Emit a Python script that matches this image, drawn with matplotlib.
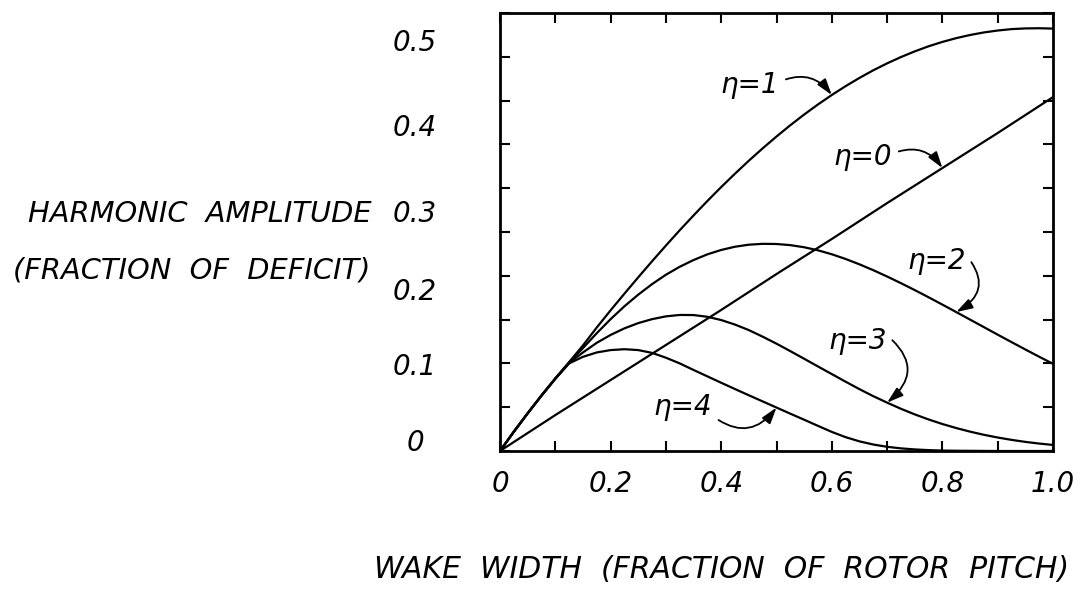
import matplotlib
matplotlib.use('Agg')
import matplotlib.pyplot as plt

# Wake width (fraction of rotor pitch)
width = [0.000, 0.025, 0.050, 0.075, 0.100, 0.125, 0.150, 0.175, 0.200, 0.225,
         0.250, 0.275, 0.300, 0.325, 0.350, 0.375, 0.400, 0.425, 0.450, 0.475,
         0.500, 0.525, 0.550, 0.575, 0.600, 0.625, 0.650, 0.675, 0.700, 0.725,
         0.750, 0.775, 0.800, 0.825, 0.850, 0.875, 0.900, 0.925, 0.950, 0.975,
         1.000]

# Harmonic amplitudes (fraction of deficit)
eta1 = [0, .022, .043, .0635, .083, .1015, .1205, .141, .1606, .1796,
        .1983, .2166, .2345, .252, .2689, .2854, .3013, .3166, .3314, .3455,
        .359, .3719, .3841, .3956, .4064, .4165, .4259, .4346, .4425, .4497,
        .4562, .462, .467, .4713, .4749, .4778, .48, .4816, .4824, .4826,
        .4822]
eta2 = [0, .022, .043, .0632, .0825, .101, .1175, .1345, .1505, .1652,
        .1785, .1905, .2012, .2103, .218, .2245, .2295, .2332, .2355, .2365,
        .2363, .235, .2326, .2291, .2246, .2192, .2131, .2064, .1992, .1916,
        .1837, .1755, .1671, .1586, .15, .1414, .1328, .1243, .1159, .1076,
        .0995]
eta3 = [0, .022, .043, .0632, .0825, .1005, .1125, .1235, .1325, .14,
        .146, .1505, .1537, .1553, .1552, .1532, .1495, .1443, .138, .1305,
        .1225, .114, .1053, .0965, .0878, .0791, .0706, .0626, .0552, .0482,
        .0418, .036, .0308, .0262, .0221, .0185, .0154, .0127, .0104, .0085,
        .0069]
eta4 = [0, .022, .043, .0632, .0825, .1, .1075, .1125, .1152, .1162,
        .1152, .112, .1065, .1, .0925, .0852, .0779, .0707, .0636, .0566,
        .0496, .0426, .0357, .0287, .0218, .0158, .011, .0074, .0048, .003,
        .0018, .001, .0005, .0003, .0002, .0001, 0, 0, 0, 0,
        0]

# eta = 0 (mean deficit) is a straight line
width0 = [0.0, 0.1, 0.2, 0.3, 0.4, 0.5, 0.6, 0.7, 0.8, 0.9, 1.0]
eta0 = [0, .041, .081, .121, .161, .202, .242, .283, .323, .363, .404]

xticks = [0.0, 0.1, 0.2, 0.3, 0.4, 0.5, 0.6, 0.7, 0.8, 0.9, 1.0]
xticklabels = ['0', '', '0.2', '', '0.4', '', '0.6', '', '0.8', '', '1.0']
yticks = [0.0, 0.05, 0.1, 0.15, 0.2, 0.25, 0.3, 0.35, 0.4, 0.45, 0.5]
ylabel_text = ['0', '0.1', '0.2', '0.3', '0.4', '0.5']

W, H = 1082, 593
plt.rcParams['font.family'] = ['DejaVu Sans']
plt.rcParams['font.style'] = 'italic'
plt.rcParams['font.size'] = 20

fig = plt.figure(figsize=(W / 100, H / 100), dpi=100)
ax = fig.add_axes([500 / W, 1 - 451 / H, 553 / W, 438 / H])

lw = 1.6
ax.plot(width0, eta0, color='black', lw=lw)
ax.plot(width, eta1, color='black', lw=lw)
ax.plot(width, eta2, color='black', lw=lw)
ax.plot(width, eta3, color='black', lw=lw)
ax.plot(width, eta4, color='black', lw=lw)

ax.set_xlim(0, 1)
ax.set_ylim(0, 0.5)
ax.set_xticks(xticks, xticklabels)
ax.set_yticks(yticks)
ax.tick_params(direction='in', length=7, width=1.5, top=True, right=True,
               labelleft=False, labelsize=20, pad=14)
for s in ax.spines.values():
    s.set_linewidth(2)

# y tick labels sit a little off the tick marks in the original
ylabel_pix = [443, 367, 292, 214, 128, 43]
for lab, yp in zip(ylabel_text, ylabel_pix):
    fig.text(415 / W, 1 - yp / H, lab, ha='center', va='center', fontsize=20)

fig.text(372 / W, 1 - 214 / H, 'HARMONIC  AMPLITUDE', ha='right', va='center',
         fontsize=20.8)
fig.text(370 / W, 1 - 271 / H, '(FRACTION  OF  DEFICIT)', ha='right', va='center',
         fontsize=20.8)
fig.text(722 / W, 1 - 570 / H, 'WAKE  WIDTH  (FRACTION  OF  ROTOR  PITCH)',
         ha='center', va='center', fontsize=21.5)

# curve labels with curved arrows
def label(text, xy, xytext, rad, relpos):
    ax.annotate(text, xy=xy, xytext=xytext, textcoords='data',
                ha='center', va='center', fontsize=20,
                arrowprops=dict(arrowstyle='-|>,head_length=0.7,head_width=0.22',
                                connectionstyle=f'arc3,rad={rad}',
                                color='black', lw=1.3, shrinkA=3, shrinkB=0,
                                relpos=relpos, mutation_scale=14))

label('η=1', (width[24], eta1[24]), (0.452, 0.418), -0.4, (1.0, 0.6))
label('η=0', (width0[8], eta0[8]), (0.656, 0.336), -0.4, (1.0, 0.6))
label('η=2', (width[33], eta2[33]), (0.790, 0.217), -0.6, (1.0, 0.7))
label('η=3', (width[28], eta3[28]), (0.646, 0.126), -0.6, (1.0, 0.7))
label('η=4', (width[20], eta4[20]), (0.331, 0.050), 0.5, (1.0, 0.2))

fig.savefig('out.png', dpi=100)
